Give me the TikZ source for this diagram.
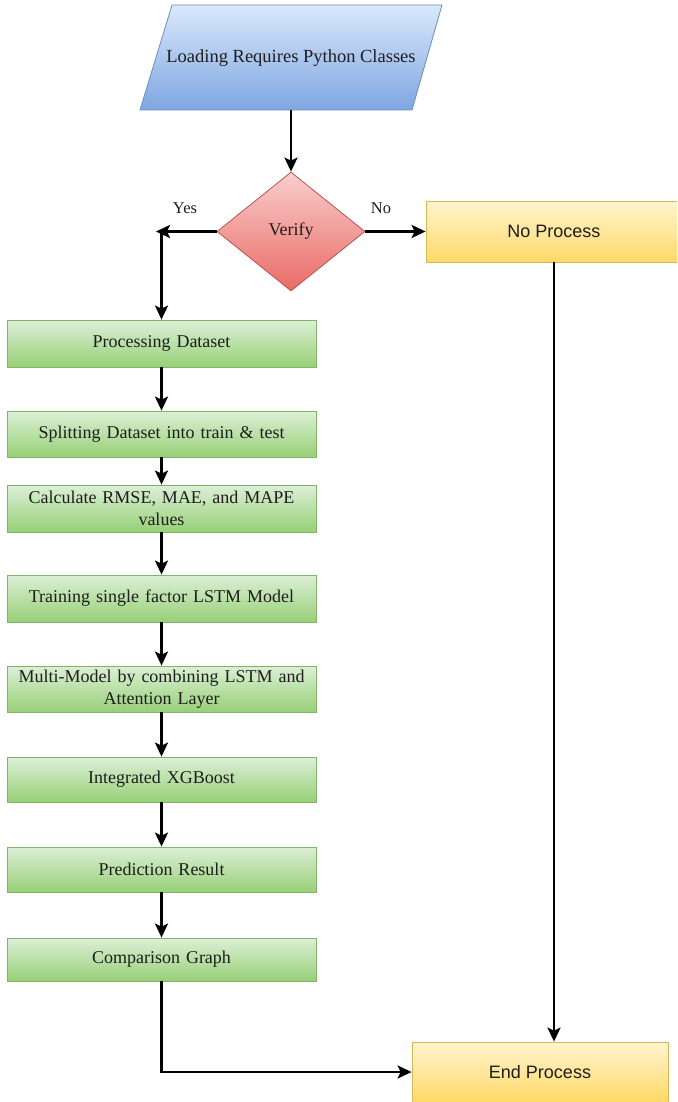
\documentclass[tikz,border=0pt]{standalone}
\usepackage{fontspec}
\setmainfont{Liberation Serif}
\newfontfamily\sansf{Liberation Sans}
\usetikzlibrary{shapes.geometric,arrows.meta}
\definecolor{blueT}{HTML}{DAE8FC}
\definecolor{blueB}{HTML}{7EA6E0}
\definecolor{blueD}{HTML}{6C8EBF}
\definecolor{redT}{HTML}{F8CECC}
\definecolor{redB}{HTML}{EA6B66}
\definecolor{redD}{HTML}{B85450}
\definecolor{grnT}{HTML}{DCEFD6}
\definecolor{grnB}{HTML}{97D077}
\definecolor{grnD}{HTML}{82B366}
\definecolor{ylwT}{HTML}{FFF4D0}
\definecolor{ylwB}{HTML}{FFD966}
\definecolor{ylwD}{HTML}{D6B656}
\definecolor{txt}{HTML}{1E1E1E}
\begin{document}
\begin{tikzpicture}[x=1pt,y=-1pt,
  arr/.style={line width=2.5pt,-{Stealth[length=14pt,width=13pt,inset=3pt]}},
  gbox/.style={rectangle,draw=grnD,line width=0.8pt,top color=grnT,bottom color=grnB,
    minimum width=309pt,inner sep=1pt,text width=305pt,align=center,text=txt,
    font=\fontsize{18}{22}\selectfont},
  ybox/.style={rectangle,draw=ylwD,line width=0.8pt,top color=ylwT,bottom color=ylwB,
    minimum width=256pt,inner sep=1pt,align=center,text=txt,
    font=\sansf\fontsize{18}{20}\selectfont},
  lbl/.style={text=txt,font=\fontsize{16.5}{18}\selectfont,inner sep=0pt}]
\clip (0,0) rectangle (677,1102);
\fill[white] (0,0) rectangle (677,1102);
% input parallelogram
\draw[draw=blueD,line width=0.8pt,top color=blueT,bottom color=blueB]
  (172,5) -- (442,5) -- (412,110) -- (140,110) -- cycle;
\node[text=txt,font=\fontsize{18.5}{20}\selectfont] (ld) at (291,58) {Loading Requires Python Classes};
\coordinate (ldb) at (291,110);
% decision
\node[diamond,draw=redD,line width=0.8pt,top color=redT,bottom color=redB,
  minimum width=148pt,minimum height=119pt,inner sep=0pt,text=txt,
  font=\fontsize{18}{20}\selectfont] (vf) at (291,231.5) {Verify};
\node[lbl] (yes) at (185,208) {Yes};
\node[lbl] (no) at (381,208) {No};
\node[ybox,minimum height=61pt] (np) at (554,231.5) {No Process};
% process chain
\node[gbox,minimum height=47pt] (p1) at (161.5,343.5) {Processing Dataset};
\node[gbox,minimum height=46pt] (p2) at (161.5,434) {Splitting Dataset into train \& test};
\node[gbox,minimum height=47pt] (p3) at (161.5,508.5) {Calculate RMSE, MAE, and MAPE\\values};
\node[gbox,minimum height=47pt] (p4) at (161.5,598.5) {Training single factor LSTM Model};
\node[gbox,minimum height=46pt] (p5) at (161.5,689) {Multi-Model by combining LSTM and\\Attention Layer};
\node[gbox,minimum height=45pt] (p6) at (161.5,779.5) {Integrated XGBoost};
\node[gbox,minimum height=45pt] (p7) at (161.5,869.5) {Prediction Result};
\node[gbox,minimum height=43pt] (p8) at (161.5,959.5) {Comparison Graph};
\node[ybox,minimum height=60pt] (ep) at (540,1072) {End Process};
% connectors
\draw[arr] (ldb) -- (vf.north);
\coordinate (yesend) at (156,231.5);
\coordinate (yesjoin) at (161.5,231.5);
\draw[arr] (vf.west) -- (yesend);
\draw[arr] (yesjoin) -- (p1.north);
\draw[arr] (vf.east) -- (np.west);
\draw[arr] (p1.south) -- (p2.north);
\draw[arr] (p2.south) -- (p3.north);
\draw[arr] (p3.south) -- (p4.north);
\draw[arr] (p4.south) -- (p5.north);
\draw[arr] (p5.south) -- (p6.north);
\draw[arr] (p6.south) -- (p7.north);
\draw[arr] (p7.south) -- (p8.north);
\draw[arr] (np.south) -- (np.south |- ep.north);
\draw[arr] (p8.south) |- (ep.west);
\end{tikzpicture}
\end{document}
